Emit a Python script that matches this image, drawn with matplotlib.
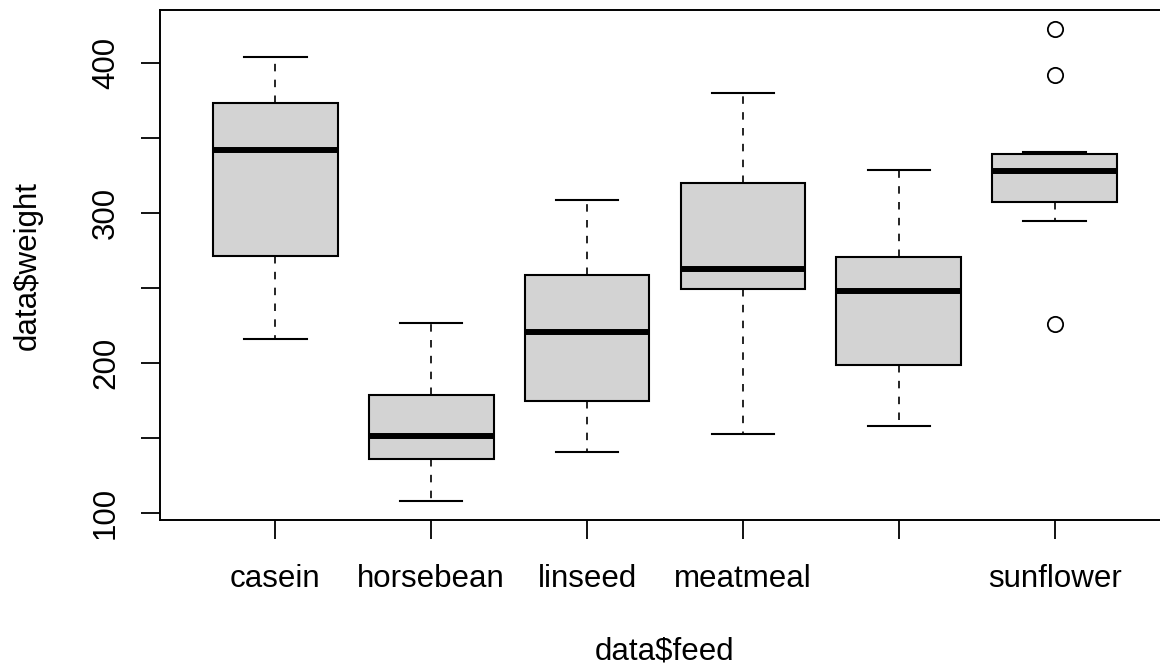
import matplotlib
matplotlib.use('Agg')
import matplotlib.pyplot as plt

plt.rcParams['font.family'] = ['Liberation Sans', 'DejaVu Sans']

# box stats (chick weights by feed)
feeds = ['casein', 'horsebean', 'linseed', 'meatmeal', 'soybean', 'sunflower']
shown_labels = ['casein', 'horsebean', 'linseed', 'meatmeal', '', 'sunflower']
whislo = [216, 108, 141, 153, 158, 295]
q1 = [271.5, 136, 175, 249.5, 199, 307.5]
med = [342, 151.5, 221, 263, 248, 328]
q3 = [373.5, 179, 258.5, 320, 271, 339.5]
whishi = [404, 227, 309, 380, 329, 341]
fliers = [[], [], [], [], [], [226, 392, 423]]

stats = []
for i, f in enumerate(feeds):
    stats.append({'label': f, 'whislo': whislo[i], 'q1': q1[i], 'med': med[i],
                  'q3': q3[i], 'whishi': whishi[i], 'fliers': fliers[i]})

fig = plt.figure(figsize=(11.6, 6.67), dpi=100)
ax = fig.add_axes([160 / 1160, 1 - 520 / 667, 1010 / 1160, 510 / 667])

ax.bxp(stats, positions=range(1, 7), widths=0.8, patch_artist=True,
       boxprops=dict(facecolor='#d3d3d3', edgecolor='black', linewidth=1.5),
       medianprops=dict(color='black', linewidth=4.3, solid_capstyle='butt'),
       whiskerprops=dict(color='black', linewidth=1.2, linestyle=(0, (4.5, 5))),
       capprops=dict(color='black', linewidth=1.5),
       capwidths=0.4,
       flierprops=dict(marker='o', markerfacecolor='white', markeredgecolor='black',
                       markersize=11, markeredgewidth=1.3))

ax.set_xlim(0.26, 6.74)
ax.set_ylim(95.4, 435.6)

ax.set_xticks(range(1, 7))
ax.set_xticklabels(shown_labels, fontsize=22.5)
yt = [100, 150, 200, 250, 300, 350, 400]
ax.set_yticks(yt)
ax.set_yticklabels([str(v) if v % 100 == 0 else '' for v in yt], fontsize=22.5,
                   rotation=90, va='center')

ax.tick_params(axis='x', length=14, width=1.3, pad=18)
ax.tick_params(axis='y', length=14, width=1.3, pad=14)
for s in ax.spines.values():
    s.set_linewidth(1.4)

ax.set_xlabel('data$feed', fontsize=22.5, labelpad=30)
ax.set_ylabel('data$weight', fontsize=22.5, labelpad=35)

fig.savefig('out.png', dpi=100)
